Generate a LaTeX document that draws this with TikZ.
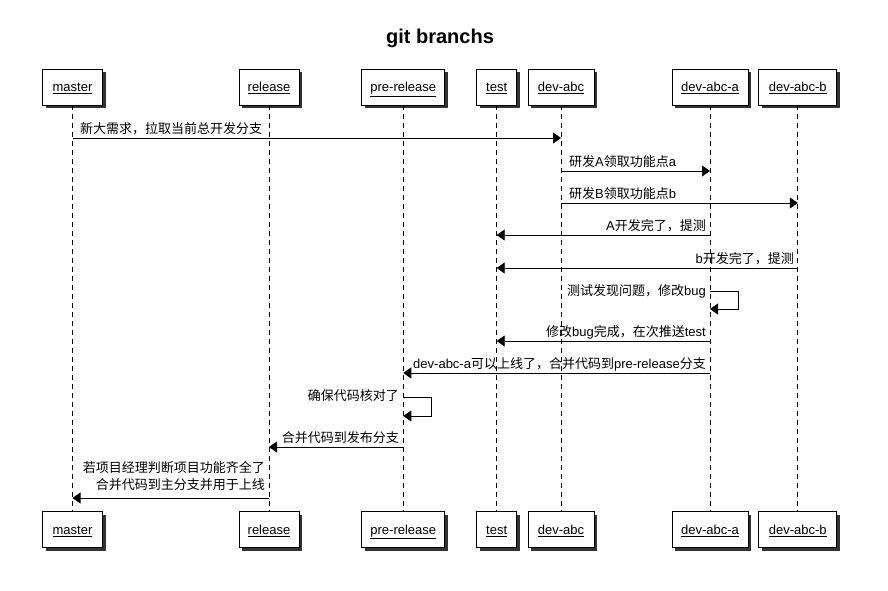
\documentclass[tikz,border=0pt]{standalone}
\usepackage{fontspec}
\setmainfont{Liberation Sans}
\newfontfamily\cjk{Noto Sans CJK SC}
\usetikzlibrary{arrows.meta,shadows}
\newcommand{\zh}[1]{{\cjk #1}}
\begin{document}
\begin{tikzpicture}[x=1pt,y=-1pt,font=\fontsize{13}{15}\selectfont,
  part/.style={draw,line width=0.9pt,fill=white,minimum height=36pt,inner sep=0pt,
    text height=9.5pt,text depth=0pt,
    drop shadow={shadow xshift=3pt,shadow yshift=-3pt,fill=black!80,opacity=1}},
  life/.style={dash pattern=on 5pt off 4pt,line width=0.8pt},
  msg/.style={line width=0.8pt,-{Triangle[length=8pt,width=11pt]}},
  lbl/.style={inner sep=0pt}]
\useasboundingbox (0,0) rectangle (888,590);
\node[font=\fontsize{20}{24}\selectfont\bfseries] (title) at (440,38) {git branchs};
% top participants
\node[part,minimum width=60pt] (mT) at (72.5,87) {\underline{master}};
\node[part,minimum width=60pt] (rT) at (269,87) {\underline{release}};
\node[part,minimum width=83pt] (pT) at (403.3,87) {\underline{pre-release}};
\node[part,minimum width=40pt] (tT) at (496.7,87) {\underline{test}};
\node[part,minimum width=66pt] (dT) at (561,87) {\underline{dev-abc}};
\node[part,minimum width=76pt] (aT) at (710,87) {\underline{dev-abc-a}};
\node[part,minimum width=78pt] (bT) at (797.8,87) {\underline{dev-abc-b}};
% bottom participants
\node[part,minimum width=60pt] (mB) at (72.5,529.5) {\underline{master}};
\node[part,minimum width=60pt] (rB) at (269,529.5) {\underline{release}};
\node[part,minimum width=83pt] (pB) at (403.3,529.5) {\underline{pre-release}};
\node[part,minimum width=40pt] (tB) at (496.7,529.5) {\underline{test}};
\node[part,minimum width=66pt] (dB) at (561,529.5) {\underline{dev-abc}};
\node[part,minimum width=76pt] (aB) at (710,529.5) {\underline{dev-abc-a}};
\node[part,minimum width=78pt] (bB) at (797.8,529.5) {\underline{dev-abc-b}};
% lifelines
\foreach \p in {m,r,p,t,d,a,b}{\draw[life] (\p T.south) -- (\p B.north);}
% message levels
\coordinate (y1) at (0,138);
\coordinate (y2) at (0,171);
\coordinate (y3) at (0,203);
\coordinate (y4) at (0,235);
\coordinate (y5) at (0,268);
\coordinate (y6a) at (0,291);
\coordinate (y6b) at (0,309);
\coordinate (y7) at (0,341);
\coordinate (y8) at (0,373);
\coordinate (y9a) at (0,397);
\coordinate (y9b) at (0,416);
\coordinate (y10) at (0,447);
\coordinate (y11) at (0,498);
\coordinate (s6) at (738,0);
\coordinate (s9) at (431,0);
% messages
\draw[msg] (mT |- y1) -- (dT |- y1);
\node[lbl,anchor=west] (l1) at (80,129) {\zh{新大需求，拉取当前总开发分支}};
\draw[msg] (dT |- y2) -- (aT |- y2);
\node[lbl,anchor=west] (l2) at (569,161.5) {\zh{研发}A\zh{领取功能点}a};
\draw[msg] (dT |- y3) -- (bT |- y3);
\node[lbl,anchor=west] (l3) at (569,194) {\zh{研发}B\zh{领取功能点}b};
\draw[msg] (aT |- y4) -- (tT |- y4);
\node[lbl,anchor=east] (l4) at (706,226) {A\zh{开发完了，提测}};
\draw[msg] (bT |- y5) -- (tT |- y5);
\node[lbl,anchor=east] (l5) at (794,258.5) {b\zh{开发完了，提测}};
\draw[msg] (aT |- y6a) -- (s6 |- y6a) -- (s6 |- y6b) -- (aT |- y6b);
\node[lbl,anchor=east] (l6) at (706,291.5) {\zh{测试发现问题，修改}bug};
\draw[msg] (aT |- y7) -- (tT |- y7);
\node[lbl,anchor=east] (l7) at (706,332) {\zh{修改}bug\zh{完成，在次推送}test};
\draw[msg] (aT |- y8) -- (pT |- y8);
\node[lbl,anchor=east] (l8) at (706,364.5) {dev-abc-a\zh{可以上线了，合并代码到}pre-release\zh{分支}};
\draw[msg] (pT |- y9a) -- (s9 |- y9a) -- (s9 |- y9b) -- (pT |- y9b);
\node[lbl,anchor=east] (l9) at (399,396) {\zh{确保代码核对了}};
\draw[msg] (pT |- y10) -- (rT |- y10);
\node[lbl,anchor=east] (l10) at (399,438) {\zh{合并代码到发布分支}};
\draw[msg] (rT |- y11) -- (mT |- y11);
\node[lbl,anchor=east,align=right] (l11) at (265,476) {\zh{若项目经理判断项目功能齐全了}\\[2pt]\zh{合并代码到主分支并用于上线}};
\end{tikzpicture}
\end{document}
